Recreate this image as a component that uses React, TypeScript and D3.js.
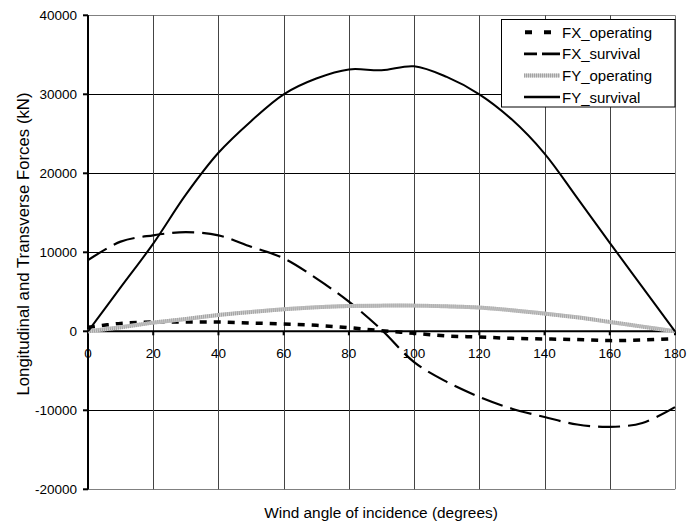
import React from "react";
import * as d3 from "d3";

const angles = [0, 10, 20, 30, 40, 50, 60, 70, 80, 90, 100, 110, 120, 130, 140, 150, 160, 170, 180];
const fxOperating = [500, 1000, 1180, 1180, 1180, 1050, 930, 760, 460, 80, -250, -590, -720, -890, -970, -1050, -1180, -1100, -930];
const fxSurvival = [9000, 11350, 12150, 12550, 12150, 10700, 9240, 6700, 3750, 200, -3900, -6400, -8300, -9800, -10850, -11800, -12100, -11600, -9600];
const fyOperating = [0, 500, 1100, 1560, 2070, 2450, 2790, 3040, 3200, 3250, 3250, 3160, 3000, 2660, 2240, 1770, 1180, 590, 0];
const fySurvival = [0, 5550, 11100, 17300, 22600, 26600, 30000, 32000, 33150, 33050, 33550, 32200, 30000, 26800, 22500, 16900, 11200, 5600, 0];

const xTicks = [0, 20, 40, 60, 80, 100, 120, 140, 160, 180];
const yTicks = [-20000, -10000, 0, 10000, 20000, 30000, 40000];

const seriesNames = ["FX_operating", "FX_survival", "FY_operating", "FY_survival"];
const seriesValues = [fxOperating, fxSurvival, fyOperating, fySurvival];

const styles = [
  { stroke: "#000", width: 3.5, dash: "7 7", legendDash: "7 12" },
  { stroke: "#000", width: 2.2, dash: "22 8", legendDash: "13 5 20 0" },
  { stroke: "#bdbdbd", width: 4, dash: "", legendDash: "" },
  { stroke: "#000", width: 2, dash: "", legendDash: "" },
];

export default function App() {
  const W = 696, H = 527;
  const x = d3.scaleLinear().domain([0, 180]).range([88, 675]);
  const y = d3.scaleLinear().domain([-20000, 40000]).range([489.3, 15.3]);
  const font = "'Liberation Sans', Arial, sans-serif";

  const line = (vals: number[]) =>
    d3
      .line<number>()
      .x((_, i) => x(angles[i]))
      .y((v) => y(v))
      .curve(d3.curveCatmullRom.alpha(0.5))(vals) || "";

  const r = (v: number) => Math.round(v) + 0.5;
  const x0 = x(0), x1 = x(180), yTop = y(40000), yBot = y(-20000), yZero = y(0);

  return (
    <svg width={W} height={H} style={{ position: "absolute", left: 0, top: 0 }} fontFamily={font}>
      <rect x={0} y={0} width={W} height={H} fill="#fff" />
      {yTicks.map((t) => (
        <line key={"h" + t} x1={x0} x2={x1} y1={r(y(t))} y2={r(y(t))} stroke={t === 40000 || t === -20000 ? "#808080" : "#000"} strokeWidth={1} />
      ))}
      {xTicks.map((t) => (
        <line key={"v" + t} x1={r(x(t))} x2={r(x(t))} y1={yTop} y2={yBot} stroke={t === 180 ? "#808080" : "#444"} strokeWidth={1} />
      ))}
      <line x1={x0} x2={x0} y1={yTop} y2={yBot} stroke="#000" strokeWidth={2} />
      <line x1={x0} x2={x1} y1={yZero} y2={yZero} stroke="#000" strokeWidth={2} />
      {yTicks.map((t) => (
        <line key={"yt" + t} x1={x0 - 5} x2={x0} y1={y(t)} y2={y(t)} stroke="#000" strokeWidth={2} />
      ))}
      {xTicks.map((t) => (
        <line key={"xt" + t} x1={x(t)} x2={x(t)} y1={yZero} y2={yZero + 4} stroke="#000" strokeWidth={2} />
      ))}
      {yTicks.map((t) => (
        <text key={"yl" + t} x={77} y={y(t) + 5} textAnchor="end" fontSize={13.5} fill="#000">
          {t}
        </text>
      ))}
      {xTicks.map((t) => (
        <text key={"xl" + t} x={x(t)} y={358} textAnchor="middle" fontSize={13.5} fill="#000">
          {t}
        </text>
      ))}
      {seriesValues.map((vals, i) =>
        i === 2 ? (
          <g key={seriesNames[i]}>
            <path d={line(vals)} fill="none" stroke="#cfcfcf" strokeWidth={4} />
            <path d={line(vals)} fill="none" stroke="#a3a3a3" strokeWidth={4} strokeDasharray="1 1" />
          </g>
        ) : (
          <path
            key={seriesNames[i]}
            d={line(vals)}
            fill="none"
            stroke={styles[i].stroke}
            strokeWidth={styles[i].width}
            strokeDasharray={styles[i].dash || undefined}
          />
        )
      )}
      <text x={381} y={518} textAnchor="middle" fontSize={15.4} fill="#000">
        Wind angle of incidence (degrees)
      </text>
      <text transform={`translate(29,244) rotate(-90)`} textAnchor="middle" fontSize={16.8} fill="#000">
        Longitudinal and Transverse Forces (kN)
      </text>
      <rect x={501.5} y={19.5} width={173.5} height={87.5} fill="#fff" stroke="#000" strokeWidth={1} />
      {seriesNames.map((n, i) => {
        const ly = 32.3 + i * 21.6;
        return (
          <g key={"lg" + n}>
            {i === 2 ? (
              <g>
                <line x1={524} x2={560} y1={ly} y2={ly} stroke="#cfcfcf" strokeWidth={4} />
                <line x1={524} x2={560} y1={ly} y2={ly} stroke="#a3a3a3" strokeWidth={4} strokeDasharray="1 1" />
              </g>
            ) : (
              <line
                x1={i === 0 ? 525 : 524}
                x2={560}
                y1={ly}
                y2={ly}
                stroke={styles[i].stroke}
                strokeWidth={i === 0 ? 4 : styles[i].width + 0.5}
                strokeDasharray={styles[i].legendDash || undefined}
              />
            )}
            <text x={562} y={ly + 5.5} fontSize={15} fill="#000">
              {n}
            </text>
          </g>
        );
      })}
    </svg>
  );
}
